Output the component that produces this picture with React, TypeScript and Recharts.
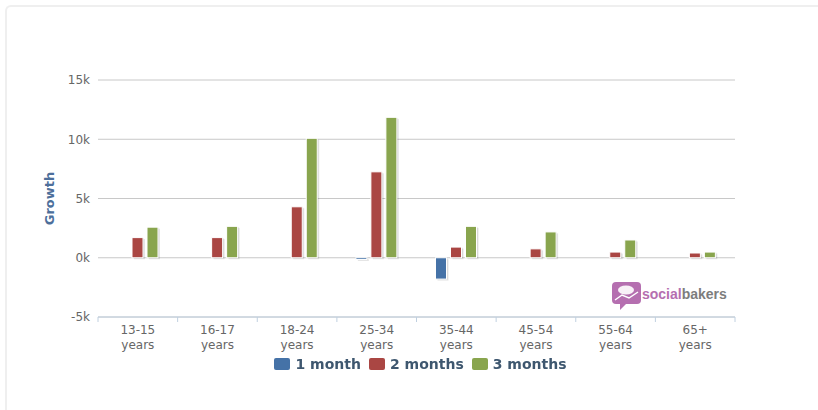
import { BarChart, Bar, XAxis, YAxis, CartesianGrid, Label } from "recharts";

const categories = ["13-15", "16-17", "18-24", "25-34", "35-44", "45-54", "55-64", "65+"];
const oneMonth = [0, 0, 0, -150, -1800, 0, 0, 0];
const twoMonths = [1700, 1700, 4300, 7250, 900, 750, 480, 400];
const threeMonths = [2580, 2650, 10080, 11850, 2650, 2180, 1500, 480];
const yTicks = [-5000, 0, 5000, 10000, 15000];

const series = [
  { key: "m1", name: "1 month", color: "#4572A7", values: oneMonth },
  { key: "m2", name: "2 months", color: "#AA4643", values: twoMonths },
  { key: "m3", name: "3 months", color: "#89A54E", values: threeMonths },
];

const data = categories.map((c, i) => ({
  name: c,
  m1: oneMonth[i],
  m2: twoMonths[i],
  m3: threeMonths[i],
}));

const FONT = "'DejaVu Sans', Verdana, sans-serif";

// highcharts-ish bar: white border + soft shadow
const ShadowBar = (props: any) => {
  const { x, y, width, height, fill } = props;
  if (!height) return null;
  const top = Math.min(y, y + height);
  const h = Math.abs(height);
  return (
    <g>
      <rect x={x + 2} y={top + 1.5} width={width} height={h} fill="#000" opacity={0.1} />
      <rect x={x + 1} y={top + 0.5} width={width} height={h} fill="#000" opacity={0.1} />
      <rect x={x} y={top} width={width} height={h} fill={fill} stroke="#fff" strokeWidth={1} />
    </g>
  );
};

const XTick = (props: any) => {
  const { x, y, payload, index, width } = props;
  const step = (width || 637) / categories.length;
  const axisY = y - 8;
  const isLast = index === categories.length - 1;
  return (
    <g>
      <line x1={x - step / 2} y1={axisY} x2={x - step / 2} y2={axisY + 5} stroke="#C0D0E0" />
      {isLast && <line x1={x + step / 2} y1={axisY} x2={x + step / 2} y2={axisY + 5} stroke="#C0D0E0" />}
      <text x={x} y={y} textAnchor="middle" fill="#666" fontSize={12} fontFamily={FONT}>
        <tspan x={x} dy={9}>{payload.value}</tspan>
        <tspan x={x} dy={15}>years</tspan>
      </text>
    </g>
  );
};

export default function App() {
  return (
    <div style={{ position: "fixed", left: 0, top: 0, width: 818, height: 410, background: "#fff" }}>
      <div
        style={{
          position: "absolute",
          left: 5,
          top: 5,
          width: 830,
          height: 420,
          borderLeft: "2px solid #efefef",
          borderTop: "2px solid #efefef",
          borderTopLeftRadius: 6,
        }}
      />
      <BarChart
        width={818}
        height={410}
        data={data}
        margin={{ top: 80, right: 83, left: 38, bottom: 53 }}
        barSize={11}
        barGap={4}
        style={{ position: "absolute", left: 0, top: 0 }}
      >
        <CartesianGrid vertical={false} stroke="#C8C8C8" />
        <XAxis
          dataKey="name"
          height={40}
          tick={<XTick />}
          tickLine={false}
          axisLine={{ stroke: "#C0D0E0" }}
          interval={0}
        />
        <YAxis
          width={60}
          domain={[-5000, 15000]}
          ticks={yTicks}
          tickFormatter={(v) => `${v / 1000}k`}
          axisLine={false}
          tickLine={false}
          tickSize={0}
          tickMargin={8}
          tick={{ fill: "#666", fontSize: 12, fontFamily: FONT }}
        >
          <Label
            value="Growth"
            angle={-90}
            position="insideLeft"
            offset={11}
            style={{ fill: "#4D6F9B", fontSize: 13, fontWeight: "bold", fontFamily: FONT, textAnchor: "middle" }}
          />
        </YAxis>
        {series.map((s) => (
          <Bar
            key={s.key}
            dataKey={s.key}
            name={s.name}
            fill={s.color}
            shape={<ShadowBar />}
            isAnimationActive={false}
          />
        ))}
      </BarChart>
      <svg width={130} height={32} style={{ position: "absolute", left: 610, top: 279 }}>
        <rect x={2} y={3} width={29} height={22} rx={4} fill="#B56FB0" />
        <path d="M10 24 L10 31 L17 24 Z" fill="#B56FB0" />
        <ellipse cx={16} cy={11} rx={8} ry={4.5} fill="#fff" opacity={0.9} />
        <path d="M5 21 L12 16 L19 19 L28 13" stroke="#fff" strokeWidth={1.5} fill="none" />
        <text x={32} y={20} fontSize={14} fontWeight="bold" fontFamily="'Liberation Sans', Arial, sans-serif">
          <tspan fill="#B56FB0">social</tspan>
          <tspan fill="#7D7D7D">bakers</tspan>
        </text>
      </svg>
      <div
        style={{
          position: "absolute",
          left: 0,
          width: 841,
          top: 356,
          display: "flex",
          justifyContent: "center",
          gap: 8,
          fontFamily: FONT,
          fontSize: 14,
          fontWeight: "bold",
          color: "#3E576F",
        }}
      >
        {series.map((s) => (
          <div key={s.key} style={{ display: "flex", alignItems: "center", gap: 5 }}>
            <span style={{ display: "inline-block", width: 16, height: 12, borderRadius: 2, background: s.color }} />
            <span>{s.name}</span>
          </div>
        ))}
      </div>
    </div>
  );
}
